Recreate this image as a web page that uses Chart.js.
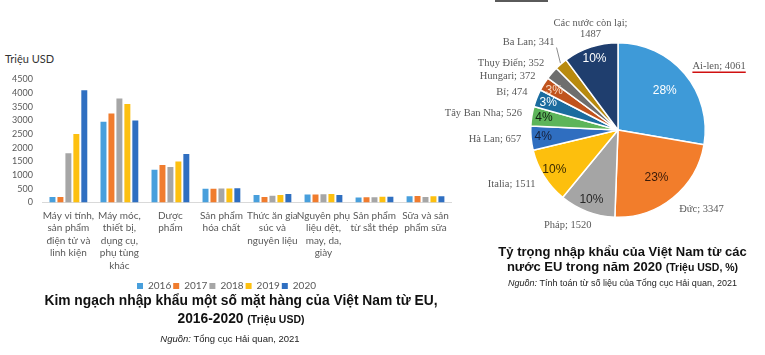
<!DOCTYPE html>
<html>
<head>
<meta charset="utf-8">
<script src="https://cdn.jsdelivr.net/npm/chart.js@4.4.1/dist/chart.umd.min.js"></script>
<style>
  html, body { margin: 0; padding: 0; background: #ffffff; }
  #wrap { position: relative; width: 765px; height: 355px; overflow: hidden; background: #fff; }
  .abs { position: absolute; }
  #barBox { left: 0; top: 64px; width: 460px; height: 237px; }
  #pieBox { left: 440px; top: 0; width: 325px; height: 240px; }
  .ttl { font-family: "Liberation Sans", Arial, sans-serif; font-weight: bold; color: #111; text-align: center; white-space: nowrap; }
  .src { font-family: "Liberation Sans", Arial, sans-serif; color: #222; text-align: center; white-space: nowrap; }
</style>
</head>
<body>
<div id="wrap">
  <div class="abs" style="left:495px;top:0;width:53px;height:2px;background:#5a5a5a;"></div>
  <div class="abs" style="left:5px;top:52px;font-family:Lato,'Open Sans',sans-serif;font-size:11px;color:#333;">Triệu USD</div>
  <div id="barBox" class="abs"><canvas id="bar"></canvas></div>
  <div id="pieBox" class="abs"><canvas id="pie"></canvas></div>

  <div class="abs ttl" style="left:0;width:482px;top:292px;font-size:13.8px;line-height:18px;">Kim ngạch nhập khẩu một số mặt hàng của Việt Nam từ EU,<br>2016-2020 <span style="font-size:10.5px;">(Triệu USD)</span></div>
  <div class="abs src" style="left:0;width:460px;top:333px;font-size:9.5px;"><i>Nguồn:</i> Tổng cục Hải quan, 2021</div>

  <div class="abs ttl" style="left:470px;width:305px;top:244px;font-size:13px;line-height:15px;">Tỷ trọng nhập khẩu của Việt Nam từ các<br>nước EU trong năm 2020 <span style="font-size:10.5px;">(Triệu USD, %)</span></div>
  <div class="abs src" style="left:470px;width:305px;top:278px;font-size:9px;"><i>Nguồn:</i> Tính toán từ số liệu của Tổng cục Hải quan, 2021</div>
</div>

<script>
// ---------- Bar chart data ----------
const categories = [
  ["Máy vi tính,", "sản phẩm", "điện tử và", "linh kiện"],
  ["Máy móc,", "thiết bị,", "dụng cụ,", "phụ tùng", "khác"],
  ["Dược", "phẩm"],
  ["Sản phẩm", "hóa chất"],
  ["Thức ăn gia", "súc và", "nguyên liệu"],
  ["Nguyên phụ", "liệu dệt,", "may, da,", "giày"],
  ["Sản phẩm", "từ sắt thép"],
  ["Sữa và sản", "phẩm sữa"]
];
const years = ["2016", "2017", "2018", "2019", "2020"];
const v2016 = [200, 2950, 1200, 500, 270, 290, 180, 230];
const v2017 = [200, 3250, 1370, 500, 200, 290, 190, 240];
const v2018 = [1800, 3800, 1300, 510, 250, 300, 190, 200];
const v2019 = [2500, 3600, 1500, 510, 270, 310, 210, 230];
const v2020 = [4100, 3000, 1770, 520, 310, 270, 210, 230];
const yMax = 4500;
const yStep = 500;

// ---------- Pie chart data ----------
const countries = ["Ai-len", "Đức", "Pháp", "Italia", "Hà Lan", "Tây Ban Nha", "Bỉ", "Hungari", "Thụy Điển", "Ba Lan", "Các nước còn lại"];
const imports2020 = [4061, 3347, 1520, 1511, 657, 526, 474, 372, 352, 341, 1487];

// ---------- styles ----------
const barColors = ["#489fdc", "#f07c2e", "#a6a6a6", "#fdc010", "#2f6fc1"];
const pieColors = ["#3e9ad8", "#f27d2b", "#a5a5a5", "#fdbf0d", "#2f6ec0", "#5db55a", "#1b6c9f", "#c0531d", "#6e6e6e", "#b88a0f", "#1f3e6e"];
const pctColors = ["#ffffff", "#3a1a08", "#262626", "#3a2a00", "#14203a", "#102010", "#ffffff", "#f8d8c0", "#ffffff", "#ffffff", "#ffffff"];
const labelNudge = [[0,2],[0,0],[8,0],[0,0],[0,0],[0,0],[0,0],[0,0],[0,0],[0,-10],[3,2]];
const leaderLine = [false,false,false,false,false,false,false,false,false,true,false];
const underline = [true,false,false,false,false,false,false,false,false,false,false];

const series = [v2016, v2017, v2018, v2019, v2020];

new Chart(document.getElementById("bar"), {
  type: "bar",
  data: {
    labels: categories,
    datasets: years.map((y, i) => ({
      label: y,
      data: series[i],
      backgroundColor: barColors[i],
      borderWidth: 0,
      categoryPercentage: 0.78,
      barPercentage: 0.75
    }))
  },
  options: {
    responsive: true,
    maintainAspectRatio: false,
    animation: false,
    layout: { padding: { top: 8, left: 2, right: 9, bottom: 0 } },
    plugins: {
      tooltip: { enabled: false },
      legend: {
        position: "bottom",
        labels: {
          boxWidth: 6, boxHeight: 6, padding: 2,
          color: "#595959",
          font: { family: "Lato", size: 10 }
        }
      }
    },
    scales: {
      x: {
        grid: { display: false, drawTicks: false },
        border: { display: true, color: "#d9d9d9", width: 1 },
        ticks: {
          autoSkip: false, maxRotation: 0, minRotation: 0, padding: 7,
          color: "#595959",
          font: { family: "Lato", size: 10, lineHeight: 1.25 }
        }
      },
      y: {
        min: 0, max: yMax,
        grid: { display: false, drawTicks: false },
        border: { display: false },
        ticks: {
          stepSize: yStep,
          autoSkip: false,
          padding: 10,
          color: "#595959",
          font: { family: "Lato", size: 9 },
          callback: (v) => String(v)
        }
      }
    }
  }
});

// ---------- Pie ----------
const total = imports2020.reduce((a, b) => a + b, 0);

const pieLabels = {
  id: "pieLabels",
  afterDatasetsDraw(chart) {
    const ctx = chart.ctx;
    const meta = chart.getDatasetMeta(0);
    ctx.save();
    meta.data.forEach((arc, i) => {
      const p = arc.getProps(["x", "y", "startAngle", "endAngle", "outerRadius"], true);
      const mid = (p.startAngle + p.endAngle) / 2;
      const frac = imports2020[i] / total;
      const pct = Math.round(frac * 100);
      if (pct >= 3) {
        const rf = frac > 0.2 ? 0.7 : 0.86;
        const px = p.x + Math.cos(mid) * p.outerRadius * rf;
        const py = p.y + Math.sin(mid) * p.outerRadius * rf;
        ctx.font = "12px 'Liberation Sans', Arial, sans-serif";
        ctx.fillStyle = pctColors[i];
        ctx.textAlign = "center";
        ctx.textBaseline = "middle";
        ctx.fillText(pct + "%", px, py);
      }
      const name = countries[i];
      const lines = name.length > 12 ? [name + ";", String(imports2020[i])] : [name + "; " + imports2020[i]];
      ctx.font = "10.5px 'Liberation Serif', 'DejaVu Serif', serif";
      const lh = 11;
      const h = lines.length * lh;
      const rr = p.outerRadius + 10;
      const hx = Math.cos(mid);
      const vy = Math.sin(mid);
      const ax = p.x + hx * rr + labelNudge[i][0];
      const ay = p.y + vy * rr + vy * (lines.length === 1 ? 5 : h / 2) + labelNudge[i][1];
      const align = Math.abs(hx) < 0.34 ? "center" : (hx < 0 ? "right" : "left");
      ctx.fillStyle = "#595959";
      ctx.textAlign = align;
      ctx.textBaseline = "middle";
      const maxW = Math.max(...lines.map(l => ctx.measureText(l).width));
      lines.forEach((l, k) => {
        ctx.fillText(l, ax, ay - h / 2 + lh / 2 + k * lh);
      });
      if (underline[i]) {
        const x0 = align === "left" ? ax : (align === "right" ? ax - maxW : ax - maxW / 2);
        ctx.strokeStyle = "#d01010";
        ctx.lineWidth = 1.5;
        ctx.beginPath();
        ctx.moveTo(x0, ay + 6);
        ctx.lineTo(x0 + maxW, ay + 6);
        ctx.stroke();
      }
      if (leaderLine[i]) {
        const ex = p.x + hx * (p.outerRadius + 1);
        const ey = p.y + vy * (p.outerRadius + 1);
        ctx.strokeStyle = "#8c8c8c";
        ctx.lineWidth = 1;
        ctx.beginPath();
        ctx.moveTo(ex, ey);
        ctx.lineTo(ax + 2, ay + 5);
        ctx.stroke();
      }
    });
    ctx.restore();
  }
};

new Chart(document.getElementById("pie"), {
  type: "pie",
  data: {
    labels: countries,
    datasets: [{
      data: imports2020,
      backgroundColor: pieColors,
      borderColor: "#ffffff",
      borderWidth: 1.5
    }]
  },
  options: {
    responsive: true,
    maintainAspectRatio: false,
    animation: false,
    layout: { padding: { left: 90, right: 59, top: 42, bottom: 22 } },
    plugins: { legend: { display: false }, tooltip: { enabled: false } }
  },
  plugins: [pieLabels]
});
</script>
</body>
</html>
